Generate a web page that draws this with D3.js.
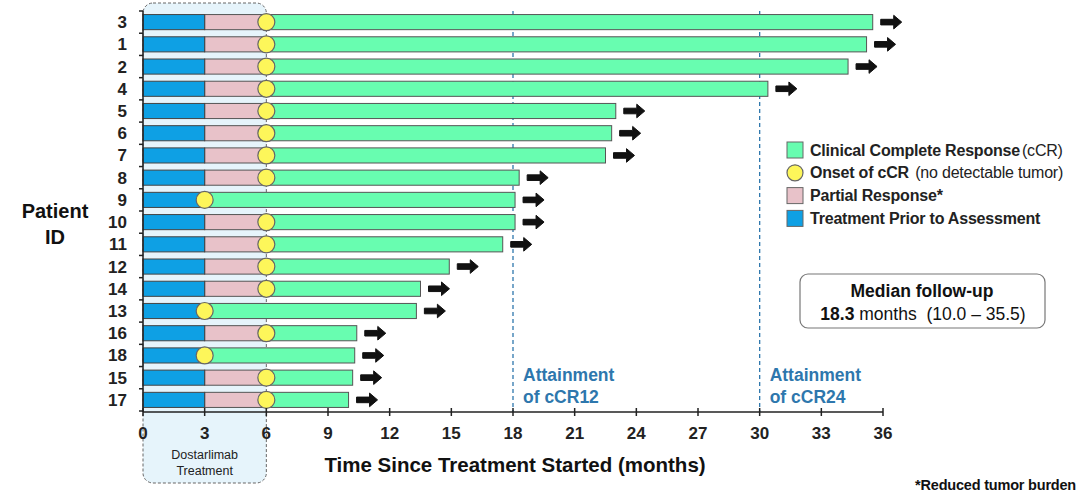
<!DOCTYPE html>
<html>
<head>
<meta charset="utf-8">
<script src="https://cdn.jsdelivr.net/npm/d3@7"></script>
<style>
  body { margin: 0; background: #fff; }
  svg { font-family: Arial, "Liberation Sans", sans-serif; }
</style>
</head>
<body>
<div id="app"></div>
<script>
// patients in display order (top to bottom)
const patients = ["3", "1", "2", "4", "5", "6", "7", "8", "9", "10", "11", "12", "14", "13", "16", "18", "15", "17"];
// follow-up time in months (end of green bar)
const followUp = [35.5, 35.2, 34.3, 30.4, 23.0, 22.8, 22.5, 18.3, 18.1, 18.1, 17.5, 14.9, 13.5, 13.3, 10.4, 10.3, 10.2, 10.0];
// onset of cCR (months)
const onset = [6, 6, 6, 6, 6, 6, 6, 6, 3, 6, 6, 6, 6, 3, 6, 3, 6, 6];
const priorEnd = 3;
const xTicks = [0, 3, 6, 9, 12, 15, 18, 21, 24, 27, 30, 33, 36];
const milestones = [18, 30];
const milestoneLabels = [["Attainment", "of cCR12"], ["Attainment", "of cCR24"]];

const rows = patients.map((p, i) => ({ id: p, end: followUp[i], onset: onset[i] }));

const W = 1080, H = 494;
const svg = d3.select("#app").append("svg").attr("width", W).attr("height", H);

const x = d3.scaleLinear().domain([0, 36]).range([143, 883]);
const y = d3.scaleBand().domain(patients).range([11, 411]).paddingInner(0.32).paddingOuter(0.16);
const axisY = 412;

const cBlue = "#0ea0e4", cPink = "#e8c2c9", cGreen = "#68fdb0", cYellow = "#fdf65a";
const cLine = "#2e77ad";

//treatment box
svg.append("rect")
  .attr("x", x(0)).attr("y", 3)
  .attr("width", x(6) - x(0)).attr("height", 480)
  .attr("rx", 10)
  .attr("fill", "#e6f4fb")
  .attr("stroke", "#666").attr("stroke-dasharray", "3,2").attr("stroke-width", 1);

svg.append("text").attr("x", (x(0) + x(6)) / 2).attr("y", 459)
  .attr("text-anchor", "middle").attr("font-size", 12.5).attr("fill", "#222").text("Dostarlimab");
svg.append("text").attr("x", (x(0) + x(6)) / 2).attr("y", 475)
  .attr("text-anchor", "middle").attr("font-size", 12.5).attr("fill", "#222").text("Treatment");

//milestone lines
milestones.forEach((m, i) => {
  svg.append("line")
    .attr("x1", x(m)).attr("x2", x(m)).attr("y1", 11).attr("y2", axisY)
    .attr("stroke", cLine).attr("stroke-width", 1.3).attr("stroke-dasharray", "4,3");
  milestoneLabels[i].forEach((t, j) => {
    svg.append("text").attr("x", x(m) + 10).attr("y", 381 + j * 22)
      .attr("font-size", 17.5).attr("font-weight", "bold").attr("fill", cLine).text(t);
  });
});

//bars
const g = svg.append("g");
const bh = y.bandwidth();
g.selectAll(".green").data(rows).enter().append("rect")
  .attr("x", (d) => x(d.onset)).attr("y", (d) => y(d.id))
  .attr("width", (d) => x(d.end) - x(d.onset)).attr("height", bh)
  .attr("fill", cGreen).attr("stroke", "#555").attr("stroke-width", 1);
g.selectAll(".pink").data(rows.filter((d) => d.onset > priorEnd)).enter().append("rect")
  .attr("x", x(priorEnd)).attr("y", (d) => y(d.id))
  .attr("width", (d) => x(d.onset) - x(priorEnd)).attr("height", bh)
  .attr("fill", cPink).attr("stroke", "#555").attr("stroke-width", 1);
g.selectAll(".blue").data(rows).enter().append("rect")
  .attr("x", x(0)).attr("y", (d) => y(d.id))
  .attr("width", x(priorEnd) - x(0)).attr("height", bh)
  .attr("fill", cBlue).attr("stroke", "#444").attr("stroke-width", 1);
g.selectAll("circle").data(rows).enter().append("circle")
  .attr("cx", (d) => x(d.onset)).attr("cy", (d) => y(d.id) + bh / 2)
  .attr("r", 8.5).attr("fill", cYellow).attr("stroke", "#666").attr("stroke-width", 1.2);

//arrows
const arrow = "M0,-2.8 L13,-2.8 L13,-6.8 L21,0 L13,6.8 L13,2.8 L0,2.8 Z";
g.selectAll(".arrow").data(rows).enter().append("path")
  .attr("d", arrow)
  .attr("transform", (d) => "translate(" + (x(d.end) + 8) + "," + (y(d.id) + bh / 2) + ")")
  .attr("fill", "#111").attr("stroke", "#111").attr("stroke-width", 1).attr("stroke-linejoin", "round");

//x axis
svg.append("line").attr("x1", x(0)).attr("x2", x(36)).attr("y1", axisY).attr("y2", axisY)
  .attr("stroke", "#222").attr("stroke-width", 1.5);
svg.selectAll(".xt").data(xTicks).enter().append("line")
  .attr("x1", (d) => x(d)).attr("x2", (d) => x(d)).attr("y1", axisY - 4).attr("y2", axisY + 4)
  .attr("stroke", "#222").attr("stroke-width", 1.5);
svg.selectAll(".xl").data(xTicks).enter().append("text")
  .attr("x", (d) => x(d)).attr("y", axisY + 27)
  .attr("text-anchor", "middle").attr("font-size", 17).attr("font-weight", "bold").attr("fill", "#222")
  .text((d) => d);
svg.append("text").attr("x", 515).attr("y", 472).attr("text-anchor", "middle")
  .attr("font-size", 20.5).attr("font-weight", "bold").attr("fill", "#111")
  .text("Time Since Treatment Started (months)");

//y axis
svg.append("line").attr("x1", x(0)).attr("x2", x(0)).attr("y1", 11).attr("y2", axisY)
  .attr("stroke", "#222").attr("stroke-width", 1.5);
const step = y.step();
svg.selectAll(".yt").data(d3.range(patients.length + 1)).enter().append("line")
  .attr("x1", x(0) - 4).attr("x2", x(0))
  .attr("y1", (i) => 11 + i * step).attr("y2", (i) => 11 + i * step)
  .attr("stroke", "#222").attr("stroke-width", 1.5);
svg.selectAll(".yl").data(patients).enter().append("text")
  .attr("x", 127).attr("y", (d) => y(d) + bh / 2 + 6)
  .attr("text-anchor", "end").attr("font-size", 17).attr("font-weight", "bold").attr("fill", "#222")
  .text((d) => d);
svg.append("text").attr("x", 55).attr("y", 218).attr("text-anchor", "middle")
  .attr("font-size", 20).attr("font-weight", "bold").attr("fill", "#111").text("Patient");
svg.append("text").attr("x", 55).attr("y", 244).attr("text-anchor", "middle")
  .attr("font-size", 20).attr("font-weight", "bold").attr("fill", "#111").text("ID");

//legend
const legend = [
  { type: "rect", fill: cGreen, bold: "Clinical Complete Response", rest: "(cCR)" },
  { type: "circle", fill: cYellow, bold: "Onset of cCR ", rest: "(no detectable tumor)" },
  { type: "rect", fill: cPink, bold: "Partial Response*", rest: "" },
  { type: "rect", fill: cBlue, bold: "Treatment Prior to Assessment", rest: "" }
];
const lg = svg.append("g").attr("transform", "translate(787,150)");
legend.forEach((l, i) => {
  const row = lg.append("g").attr("transform", "translate(0," + i * 22.8 + ")");
  if (l.type === "rect") {
    row.append("rect").attr("x", 0).attr("y", -8).attr("width", 16).attr("height", 16)
      .attr("fill", l.fill).attr("stroke", "#666").attr("stroke-width", 1);
  } else {
    row.append("circle").attr("cx", 8).attr("cy", 0).attr("r", 8)
      .attr("fill", l.fill).attr("stroke", "#666").attr("stroke-width", 1.2);
  }
  const t = row.append("text").attr("x", 23).attr("y", 5.5).attr("font-size", 16)
    .attr("letter-spacing", "-0.2").attr("fill", "#222");
  t.append("tspan").attr("font-weight", "bold").text(l.bold);
  if (l.rest) t.append("tspan").attr("dx", 2).text(l.rest);
});

//median box
svg.append("rect").attr("x", 800).attr("y", 274).attr("width", 245).attr("height", 54)
  .attr("rx", 8).attr("fill", "#fff").attr("stroke", "#777").attr("stroke-width", 1.2);
svg.append("text").attr("x", 922).attr("y", 297).attr("text-anchor", "middle")
  .attr("font-size", 17.5).attr("font-weight", "bold").attr("fill", "#111").text("Median follow-up");
const mt = svg.append("text").attr("x", 923).attr("y", 320).attr("text-anchor", "middle")
  .attr("font-size", 17.5).attr("fill", "#111");
mt.append("tspan").attr("font-weight", "bold").text("18.3");
mt.append("tspan").attr("xml:space", "preserve").text(" months  (10.0 \u2013 35.5)");

//footnote
svg.append("text").attr("x", 1076).attr("y", 490).attr("text-anchor", "end")
  .attr("font-size", 14.5).attr("font-weight", "bold").attr("letter-spacing", "-0.2").attr("fill", "#111")
  .text("*Reduced tumor burden");
</script>
</body>
</html>
